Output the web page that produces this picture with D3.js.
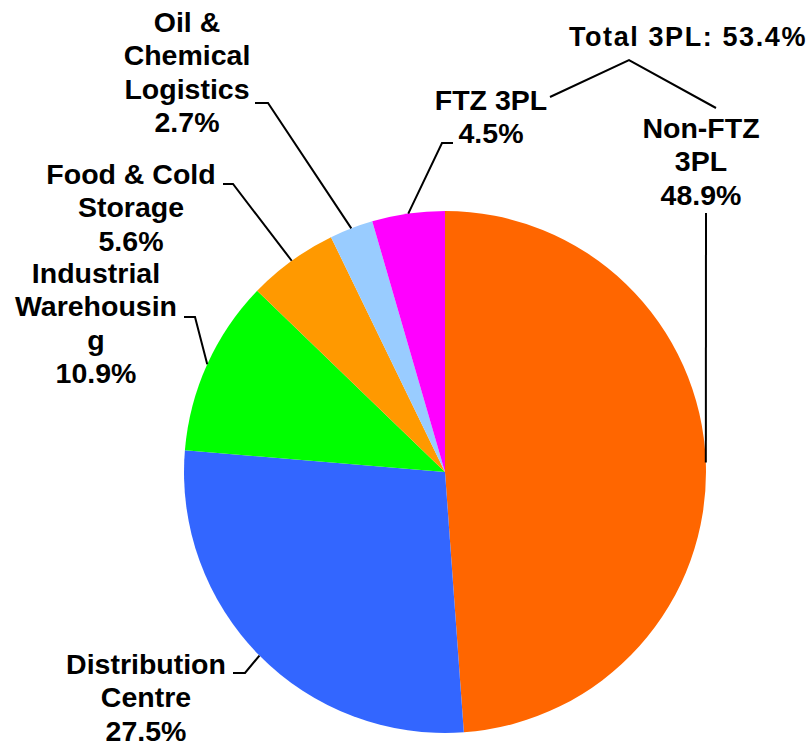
<!DOCTYPE html>
<html>
<head>
<meta charset="utf-8">
<script src="https://cdn.jsdelivr.net/npm/d3@7"></script>
<style>
  body { margin: 0; background: #fff; }
  svg text { font-family: "Liberation Sans", Arial, sans-serif; font-weight: bold; fill: #000; }
</style>
</head>
<body>
<svg id="chart"></svg>
<script>
// Données : segments du marché, dans l'ordre horaire depuis midi
const categories = ["Non-FTZ 3PL", "Distribution Centre", "Industrial Warehousing", "Food & Cold Storage", "Oil & Chemical Logistics", "FTZ 3PL"];
const values = [48.9, 27.5, 10.9, 5.6, 2.7, 4.5];
const labelLines = [
    ["Non-FTZ", "3PL"],
    ["Distribution", "Centre"],
    ["Industrial", "Warehousin", "g"],
    ["Food & Cold", "Storage"],
    ["Oil &", "Chemical", "Logistics"],
    ["FTZ 3PL"]
];
const colors = ["#FF6600", "#3366FF", "#00FF00", "#FF9900", "#99CCFF", "#FF00FF"];
const totalLabel = "Total 3PL: 53.4%";

// Dimensions
const width = 812;
const height = 745;
const cx = 445, cy = 472, radius = 261;
const lineH = 33.3;

// Mise en page des étiquettes (centre x, ligne de base de la 1re ligne, coude du trait, bout du trait)
const layout = [
    { x: 701, y: 138, elbow: null, end: [706, 213] },
    { x: 146, y: 674, elbow: [245, 673], end: [233, 673] },
    { x: 96, y: 283, elbow: [195, 317], end: [184, 317] },
    { x: 131, y: 184, elbow: [233, 184], end: [223, 184] },
    { x: 187, y: 32, elbow: [268, 103], end: [255, 103] },
    { x: 491, y: 110, elbow: [442, 143], end: [453, 143] }
];

const svg = d3.select("#chart")
    .attr("width", width)
    .attr("height", height);

const pie = d3.pie().sort(null).value(d => d);
const arcs = pie(values);

const arc = d3.arc().innerRadius(0).outerRadius(radius);

const g = svg.append("g").attr("transform", `translate(${cx},${cy})`);

g.selectAll("path.slice")
    .data(arcs)
    .enter()
    .append("path")
    .attr("class", "slice")
    .attr("d", arc)
    .attr("fill", (d, i) => colors[i]);

// Traits de rappel
arcs.forEach((d, i) => {
    const a = (d.startAngle + d.endAngle) / 2;
    const p0 = [cx + radius * Math.sin(a), cy - radius * Math.cos(a)];
    const L = layout[i];
    const pts = L.elbow ? [p0, L.elbow, L.end] : [p0, L.end];
    svg.append("polyline")
        .attr("points", pts.map(p => p.join(",")).join(" "))
        .attr("fill", "none")
        .attr("stroke", "#000")
        .attr("stroke-width", 2);
});

// Étiquettes
arcs.forEach((d, i) => {
    const L = layout[i];
    const lines = labelLines[i].concat([values[i].toFixed(1) + "%"]);
    const t = svg.append("text")
        .attr("text-anchor", "middle")
        .attr("font-size", 28.5);
    lines.forEach((s, k) => {
        t.append("tspan")
            .attr("x", L.x)
            .attr("y", L.y + k * lineH)
            .text(s);
    });
});

// Accolade « Total 3PL »
svg.append("polyline")
    .attr("points", "550,97 629,60 716,108")
    .attr("fill", "none")
    .attr("stroke", "#000")
    .attr("stroke-width", 2);

svg.append("text")
    .attr("x", 688)
    .attr("y", 46)
    .attr("text-anchor", "middle")
    .attr("font-size", 27)
    .attr("letter-spacing", 1.6)
    .text(totalLabel);
</script>
</body>
</html>
